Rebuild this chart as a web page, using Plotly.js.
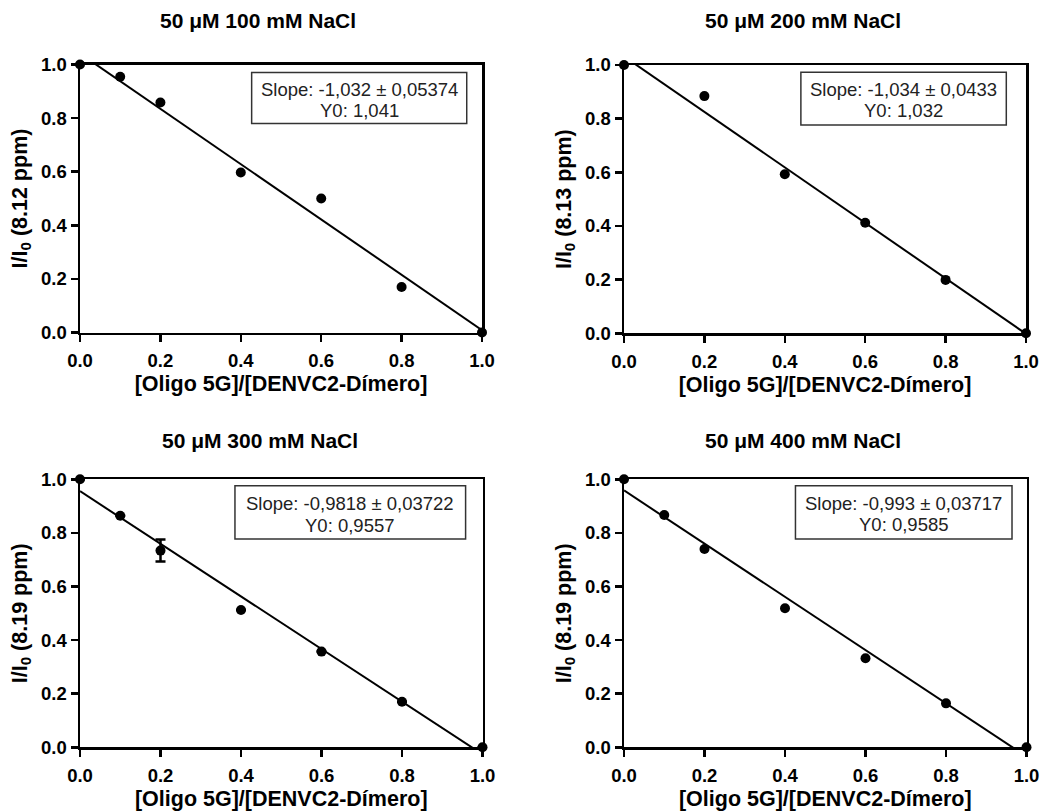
<!DOCTYPE html>
<html>
<head>
<meta charset="utf-8">
<script src="https://cdn.plot.ly/plotly-3.0.1.min.js"></script>
<style>
  html, body { margin: 0; padding: 0; background: #fff; }
  #chart { width: 1043px; height: 811px; }
</style>
</head>
<body>
<div id="chart"></div>
<script>
// ---- Data ----
const panelTitles = ['50 \u03bcM 100 mM NaCl', '50 \u03bcM 200 mM NaCl', '50 \u03bcM 300 mM NaCl', '50 \u03bcM 400 mM NaCl'];
const yTitles = ['I/I<sub>0</sub> (8.12 ppm)', 'I/I<sub>0</sub> (8.13 ppm)', 'I/I<sub>0</sub> (8.19 ppm)', 'I/I<sub>0</sub> (8.19 ppm)'];
const xTitle = '[Oligo 5G]/[DENVC2-Dímero]';

const x100 = [0, 0.1, 0.2, 0.4, 0.6, 0.8, 1.0];
const y100 = [1.0, 0.954, 0.858, 0.597, 0.500, 0.170, 0.0];

const x200 = [0, 0.2, 0.4, 0.6, 0.8, 1.0];
const y200 = [1.0, 0.884, 0.593, 0.412, 0.199, 0.0];

const x300 = [0, 0.1, 0.2, 0.4, 0.6, 0.8, 1.0];
const y300 = [1.0, 0.864, 0.734, 0.512, 0.357, 0.170, 0.0];
const err300 = [0, 0, 0.041, 0, 0, 0, 0];

const x400 = [0, 0.1, 0.2, 0.4, 0.6, 0.8, 1.0];
const y400 = [1.0, 0.867, 0.740, 0.519, 0.332, 0.164, 0.0];

const fitSlope = [-1.032, -1.034, -0.9818, -0.993];
const fitY0 = [1.041, 1.032, 0.9557, 0.9585];
const slopeLabels = ['Slope: -1,032 ± 0,05374', 'Slope: -1,034 ± 0,0433', 'Slope: -0,9818 ± 0,03722', 'Slope: -0,993 ± 0,03717'];
const y0Labels = ['Y0: 1,041', 'Y0: 1,032', 'Y0: 0,9557', 'Y0: 0,9585'];
const tickValues = [0, 0.2, 0.4, 0.6, 0.8, 1.0];
const tickLabels = ['0.0', '0.2', '0.4', '0.6', '0.8', '1.0'];

// ---- Layout geometry ----
const W = 1043, H = 811;
const xDomains = [[80/W, 482/W], [624/W, 1026/W], [80/W, 482.5/W], [624/W, 1026.5/W]];
const yDomains = [[1-332.5/H, 1-64.5/H], [1-333.3/H, 1-65/H], [1-747.3/H, 1-479.3/H], [1-747.3/H, 1-479.3/H]];
const titlePos = [[258/W, 1-21/H], [803/W, 1-21/H], [260/W, 1-440/H], [803/W, 1-440/H]];
// box [x0, x1, y0, y1] and text line positions [y line1, y line2] in data units
const boxRect = [[0.427, 0.962, 0.780, 0.970], [0.440, 0.951, 0.776, 0.973], [0.385, 0.958, 0.777, 0.976], [0.426, 0.964, 0.777, 0.976]];
const boxLines = [[0.908, 0.829], [0.910, 0.832], [0.908, 0.829], [0.910, 0.832]];

const seriesX = [x100, x200, x300, x400];
const seriesY = [y100, y200, y300, y400];
const seriesErr = [null, null, err300, null];

const fam = 'Liberation Sans, Arial, Helvetica, sans-serif';
const traces = [];
const layout = {
  width: W, height: H,
  margin: {l: 0, r: 0, t: 0, b: 0},
  paper_bgcolor: '#fff', plot_bgcolor: '#fff',
  showlegend: false,
  annotations: [],
  shapes: []
};

for (let i = 0; i < 4; i++) {
  const sx = i === 0 ? 'x' : 'x' + (i + 1);
  const sy = i === 0 ? 'y' : 'y' + (i + 1);
  const lx = i === 0 ? 'xaxis' : 'xaxis' + (i + 1);
  const ly = i === 0 ? 'yaxis' : 'yaxis' + (i + 1);

  // fit line
  const fx = [0, 1];
  const fy = fx.map(v => fitY0[i] + fitSlope[i] * v);
  traces.push({
    x: fx, y: fy, xaxis: sx, yaxis: sy, mode: 'lines',
    line: {color: '#000', width: 2}, hoverinfo: 'skip'
  });
  // data points
  const t = {
    x: seriesX[i], y: seriesY[i], xaxis: sx, yaxis: sy, mode: 'markers',
    marker: {color: '#000', size: 10},
    cliponaxis: false
  };
  if (seriesErr[i]) {
    t.error_y = {type: 'data', array: seriesErr[i], visible: true, color: '#000', thickness: 2.5, width: 5};
  }
  traces.push(t);

  const axCommon = {
    range: [0, 1], tickmode: 'array', tickvals: tickValues, ticktext: tickLabels,
    ticks: 'outside', ticklen: 7, tickwidth: 2.5, tickcolor: '#000',
    showline: true, linecolor: '#000', linewidth: 2.5, mirror: true,
    showgrid: false, zeroline: false, fixedrange: true,
    tickfont: {family: fam, size: 18.5, color: '#000', weight: 'bold'}
  };
  layout[lx] = Object.assign({}, axCommon, {
    domain: xDomains[i], anchor: sy, ticklabelstandoff: 3,
    title: {text: xTitle, font: {family: fam, size: 21.5, color: '#000', weight: 'bold'}, standoff: 6}
  });
  layout[ly] = Object.assign({}, axCommon, {
    domain: yDomains[i], anchor: sx,
    title: {text: yTitles[i], font: {family: fam, size: 21.5, color: '#000', weight: 'bold'}, standoff: 8}
  });

  layout.annotations.push({
    xref: 'paper', yref: 'paper', x: titlePos[i][0], y: titlePos[i][1],
    xanchor: 'center', yanchor: 'middle', showarrow: false,
    text: panelTitles[i],
    font: {family: fam, size: 21, color: '#000', weight: 'bold'}
  });
  const b = boxRect[i];
  layout.shapes.push({
    type: 'rect', xref: sx, yref: sy, x0: b[0], x1: b[1], y0: b[2], y1: b[3],
    line: {color: '#333', width: 1.5}, fillcolor: '#fff', layer: 'above'
  });
  const cx = (b[0] + b[1]) / 2;
  layout.annotations.push({
    xref: sx, yref: sy, x: cx, y: boxLines[i][0], xanchor: 'center', yanchor: 'middle',
    showarrow: false, text: slopeLabels[i],
    font: {family: fam, size: 18.5, color: '#222'}
  });
  layout.annotations.push({
    xref: sx, yref: sy, x: cx, y: boxLines[i][1], xanchor: 'center', yanchor: 'middle',
    showarrow: false, text: y0Labels[i],
    font: {family: fam, size: 18.5, color: '#222'}
  });
}

Plotly.newPlot('chart', traces, layout, {displayModeBar: false, staticPlot: true});
</script>
</body>
</html>
